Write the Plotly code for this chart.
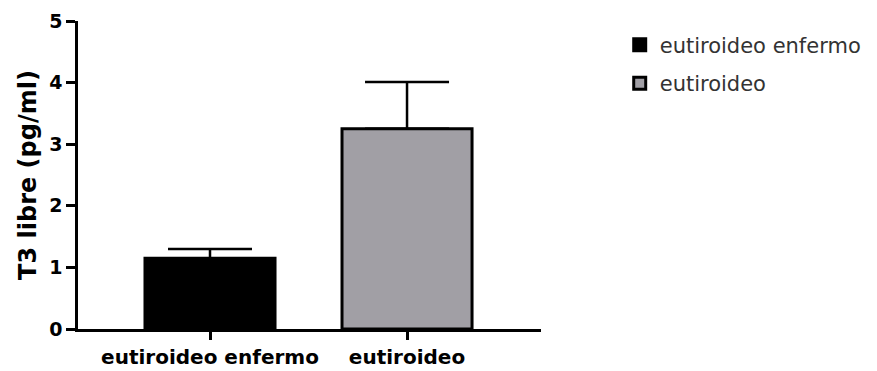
import plotly.graph_objects as go

categories = ["eutiroideo enfermo", "eutiroideo"]
means = [1.15, 3.25]
sd_up = [0.15, 0.76]
fills = ["#000000", "#a19fa5"]
y_ticks = [0, 1, 2, 3, 4, 5]

fig = go.Figure()
for i, cat in enumerate(categories):
    fig.add_trace(go.Bar(
        x=[cat], y=[means[i]], name=cat, legendgroup=cat,
        width=0.66,
        marker=dict(color=fills[i], line=dict(color="#000000", width=3)),
        error_y=dict(type="data", symmetric=False, array=[sd_up[i]], arrayminus=[0],
                     color="#000000", thickness=2.5, width=42),
    ))

# page body adds an 8px margin, so the figure is drawn 8px smaller
fig.update_layout(
    width=869, height=363,
    margin=dict(l=70, r=336, t=13, b=42, autoexpand=False),
    plot_bgcolor="white", paper_bgcolor="white",
    barmode="overlay",
    showlegend=True,
    legend=dict(x=1.17, y=0.988, xanchor="left", yanchor="top",
                traceorder="grouped", tracegroupgap=8,
                font=dict(family="DejaVu Sans", size=21, color="#333333")),
    font=dict(family="DejaVu Sans", color="#000000"),
)
fig.update_xaxes(
    type="category", range=[-0.67, 1.68], automargin=False,
    showline=True, linecolor="#000000", linewidth=2.5,
    ticks="outside", ticklen=8, tickwidth=2.5, tickcolor="#000000",
    tickfont=dict(family="DejaVu Sans", size=20, weight="bold", color="#000000"),
    showgrid=False, zeroline=False,
)
fig.update_yaxes(
    range=[0, 5], tickvals=y_ticks, automargin=True,
    showline=True, linecolor="#000000", linewidth=2.5,
    ticks="outside", ticklen=9, tickwidth=2.5, tickcolor="#000000",
    tickfont=dict(family="DejaVu Sans", size=19, weight="bold", color="#000000"),
    title=dict(text="T3 libre (pg/ml)", standoff=6,
               font=dict(family="DejaVu Sans", size=24, weight="bold", color="#000000")),
    showgrid=False, zeroline=False,
)

fig.write_html("out.html")
